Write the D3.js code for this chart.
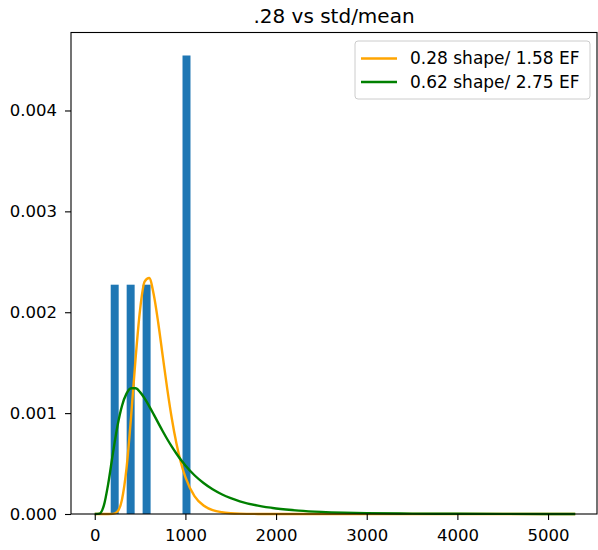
<!DOCTYPE html>
<html>
<head>
<meta charset="utf-8">
<script src="https://cdn.jsdelivr.net/npm/d3@7"></script>
<style>
  body { margin: 0; background: #fff; }
  svg text { font-family: "DejaVu Sans", sans-serif; fill: #000; }
</style>
</head>
<body>
<div id="chart"></div>
<script>
// histogram bins (density)
const binStarts = [176, 352, 528, 968];
const binEnds = [264, 440, 616, 1056];
const densities = [0.002273, 0.002273, 0.002273, 0.004545];

// lognormal pdf curves
const curveX = [0, 50, 100, 150, 200, 250, 300, 350, 400, 450, 500, 550, 600, 650, 700, 750, 800, 850, 900, 950,
  1000, 1100, 1200, 1300, 1400, 1500, 1600, 1800, 2000, 2250, 2500, 2750, 3000, 3500, 4000, 4500, 5000, 5300];
const orangeY = [0, 0, 0, 0, 0.0000016, 0.0000245, 0.000142, 0.000449, 0.000955, 0.001538, 0.002027, 0.002303, 0.002339,
  0.002178, 0.001896, 0.001565, 0.001238, 0.000946, 0.000703, 0.000511,
  0.000365, 0.000178, 0.000084, 0.0000386, 0.0000175, 0.0000078, 0.0000035, 0.0000007, 0, 0, 0, 0, 0, 0, 0, 0, 0, 0];
const greenY = [0, 0.0000033, 0.0000828, 0.000307, 0.0006, 0.00087, 0.001071, 0.001193, 0.001246, 0.001246, 0.001208,
  0.001146, 0.00107, 0.000988, 0.000903, 0.00082, 0.000741, 0.000668, 0.0006, 0.000537,
  0.000481, 0.000384, 0.000307, 0.000245, 0.000196, 0.000157, 0.000126, 0.0000827, 0.0000548, 0.0000335, 0.0000209,
  0.0000133, 0.0000086, 0.0000038, 0.0000018, 0.0000009, 0.0000004, 0.0000003];

const seriesNames = ["0.28 shape/ 1.58 EF", "0.62 shape/ 2.75 EF"];
const seriesColors = ["orange", "green"];
const xTicks = [0, 1000, 2000, 3000, 4000, 5000];
const yTicks = [0, 0.001, 0.002, 0.003, 0.004];
const title = ".28 vs std/mean";

let width = 598, height = 550;
let plot = {left: 71, right: 597, top: 32.5, bottom: 514};

let svg = d3.select("#chart").append("svg")
  .attr("width", width)
  .attr("height", height);

let xScale = d3.scaleLinear().domain([-262, 5540]).range([plot.left, plot.right]);
let yScale = d3.scaleLinear().domain([0, 0.004773]).range([plot.bottom, plot.top]);

// bars
let bins = binStarts.map((s, i) => ({x0: s, x1: binEnds[i], d: densities[i]}));
svg.selectAll(".bar")
  .data(bins)
  .join("rect")
  .attr("class", "bar")
  .attr("fill", "#1f77b4")
  .attr("x", d => xScale(d.x0))
  .attr("y", d => yScale(d.d))
  .attr("width", d => xScale(d.x1) - xScale(d.x0))
  .attr("height", d => yScale(0) - yScale(d.d));

// curves
let line = d3.line()
  .x(d => xScale(d[0]))
  .y(d => yScale(d[1]))
  .curve(d3.curveMonotoneX);

[orangeY, greenY].forEach((ys, i) => {
  svg.append("path")
    .datum(curveX.map((x, j) => [x, ys[j]]))
    .attr("fill", "none")
    .attr("stroke", seriesColors[i])
    .attr("stroke-width", 2.4)
    .attr("stroke-linejoin", "round")
    .attr("d", line);
});

// axes
let xAxis = d3.axisBottom(xScale).tickValues(xTicks).tickFormat(d3.format("d")).tickSize(6).tickPadding(9);
let yAxis = d3.axisLeft(yScale).tickValues(yTicks).tickFormat(d3.format(".3f")).tickSize(6).tickPadding(8);

let gx = svg.append("g")
  .attr("transform", "translate(0," + plot.bottom + ")")
  .call(xAxis);
let gy = svg.append("g")
  .attr("transform", "translate(" + plot.left + ",0)")
  .call(yAxis);

[gx, gy].forEach(g => {
  g.select(".domain").remove();
  g.selectAll("line").attr("stroke", "#000").attr("stroke-width", 1.1);
  g.selectAll("text").style("font-size", "16.5px").style("font-family", "DejaVu Sans, sans-serif").attr("fill", "#000");
});

// frame
svg.append("rect")
  .attr("x", plot.left)
  .attr("y", plot.top)
  .attr("width", plot.right - plot.left)
  .attr("height", plot.bottom - plot.top)
  .attr("fill", "none")
  .attr("stroke", "#000")
  .attr("stroke-width", 1.1);

// title
svg.append("text")
  .attr("x", (plot.left + plot.right) / 2)
  .attr("y", 23)
  .attr("text-anchor", "middle")
  .style("font-size", "20px")
  .text(title);

// legend
let legend = svg.append("g");
legend.append("rect")
  .attr("x", 355).attr("y", 41)
  .attr("width", 235).attr("height", 58)
  .attr("rx", 3)
  .attr("fill", "#fff").attr("fill-opacity", 0.8)
  .attr("stroke", "#cccccc").attr("stroke-width", 1);

seriesNames.forEach((name, i) => {
  let y = 58.5 + i * 23.5;
  legend.append("line")
    .attr("x1", 361).attr("x2", 397)
    .attr("y1", y).attr("y2", y)
    .attr("stroke", seriesColors[i])
    .attr("stroke-width", 2.4);
  legend.append("text")
    .attr("x", 410).attr("y", y)
    .attr("dy", "0.35em")
    .style("font-size", "17px")
    .text(name);
});
</script>
</body>
</html>
